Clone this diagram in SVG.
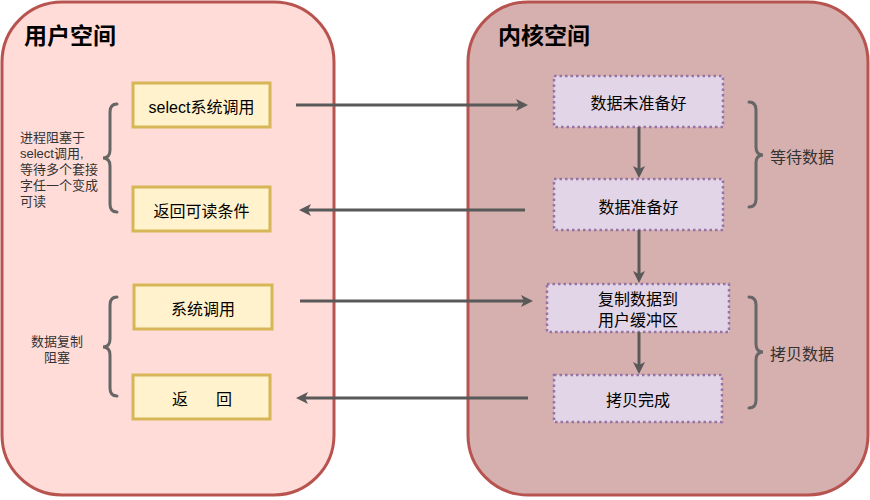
<svg xmlns="http://www.w3.org/2000/svg" width="870" height="500" viewBox="0 0 870 500">
<defs>
<style>
.t{font-family:"Liberation Sans","Noto Sans CJK SC",sans-serif;}
.title{font-size:23px;font-weight:bold;fill:#000;}
.box{font-size:16px;fill:#000;text-anchor:middle;dominant-baseline:central;}
.lbl{font-size:13px;fill:#333;}
.lbl2{font-size:16px;fill:#333;dominant-baseline:central;}
.ybox{fill:#fff2cc;stroke:#d6b656;stroke-width:3;}
.pbox{fill:#e1d5e7;stroke:#9673a6;stroke-width:2.5;stroke-dasharray:2.5 3;}
.conn{fill:none;stroke:#595959;stroke-width:3;marker-end:url(#ah);}
.brace{fill:none;stroke:#666;stroke-width:3;stroke-linecap:round;}
</style>
<marker id="ah" viewBox="0 0 12 12" refX="4" refY="6" markerWidth="12" markerHeight="12" markerUnits="userSpaceOnUse" orient="auto">
<path d="M0,0 L12,6 L0,12 L3,6 z" fill="#595959"/>
</marker>
</defs>

<g id="user-space">
<rect x="2" y="2" width="332" height="493" rx="60" ry="60" fill="#ffdcd8" stroke="#b85450" stroke-width="3"/>
<text class="t title" x="24" y="44">用户空间</text>
</g>
<g id="kernel-space">
<rect x="468" y="2" width="400" height="493" rx="60" ry="60" fill="#d5b0ae" stroke="#b85450" stroke-width="3"/>
<text class="t title" x="498" y="44">内核空间</text>
</g>

<g id="select-call">
<rect class="ybox" x="133" y="83" width="137" height="44"/>
<text class="t box" x="201.5" y="107">select系统调用</text>
</g>
<g id="return-readable">
<rect class="ybox" x="133" y="187" width="137" height="44"/>
<text class="t box" x="201.5" y="211">返回可读条件</text>
</g>
<g id="syscall">
<rect class="ybox" x="134" y="285" width="138" height="44"/>
<text class="t box" x="203" y="309">系统调用</text>
</g>
<g id="return">
<rect class="ybox" x="133" y="375" width="137" height="44"/>
<text class="t box" y="399"><tspan x="180">返</tspan><tspan x="224">回</tspan></text>
</g>

<g id="data-not-ready">
<rect class="pbox" x="554" y="76" width="169" height="51"/>
<text class="t box" x="638.5" y="103">数据未准备好</text>
</g>
<g id="data-ready">
<rect class="pbox" x="554" y="179" width="169" height="51"/>
<text class="t box" x="638.5" y="207">数据准备好</text>
</g>
<g id="copy-data">
<rect class="pbox" x="547" y="284" width="182" height="48"/>
<text class="t box" x="638" y="299">复制数据到</text>
<text class="t box" x="638" y="320">用户缓冲区</text>
</g>
<g id="copy-done">
<rect class="pbox" x="554" y="375" width="168" height="47"/>
<text class="t box" x="638" y="400">拷贝完成</text>
</g>

<g id="brace-select">
<path class="brace" d="M117,104 Q110,104 110,112 L110,150 Q110,158 103,158 Q110,158 110,166 L110,204 Q110,212 117,212"/>
<text class="t lbl" x="20"><tspan x="20" y="142">进程阻塞于</tspan><tspan x="20" y="158">select调用,</tspan><tspan x="20" y="174">等待多个套接</tspan><tspan x="20" y="190">字任一个变成</tspan><tspan x="20" y="206">可读</tspan></text>
</g>
<g id="brace-copy">
<path class="brace" d="M117,297 Q110,297 110,305 L110,339 Q110,347 103,347 Q110,347 110,355 L110,388 Q110,396 117,396"/>
<text class="t lbl" text-anchor="middle"><tspan x="57" y="346">数据复制</tspan><tspan x="57" y="362">阻塞</tspan></text>
</g>
<g id="brace-wait">
<path class="brace" d="M749,102 Q756,102 756,110 L756,147 Q756,155 763,155 Q756,155 756,163 L756,199 Q756,207 749,207"/>
<text class="t lbl2" x="770" y="157">等待数据</text>
</g>
<g id="brace-copy-k">
<path class="brace" d="M749,297 Q756,297 756,305 L756,344 Q756,352 763,352 Q756,352 756,360 L756,400 Q756,408 749,408"/>
<text class="t lbl2" x="770" y="354">拷贝数据</text>
</g>

<g id="connectors">
<path class="conn" d="M296,105 L520,105"/>
<path class="conn" d="M525,210 L307,210"/>
<path class="conn" d="M300,301 L525,301"/>
<path class="conn" d="M528,398 L304,398"/>
<path class="conn" d="M639,127 L639,170"/>
<path class="conn" d="M639,230 L639,275"/>
<path class="conn" d="M639,332 L639,366"/>
</g>
</svg>
